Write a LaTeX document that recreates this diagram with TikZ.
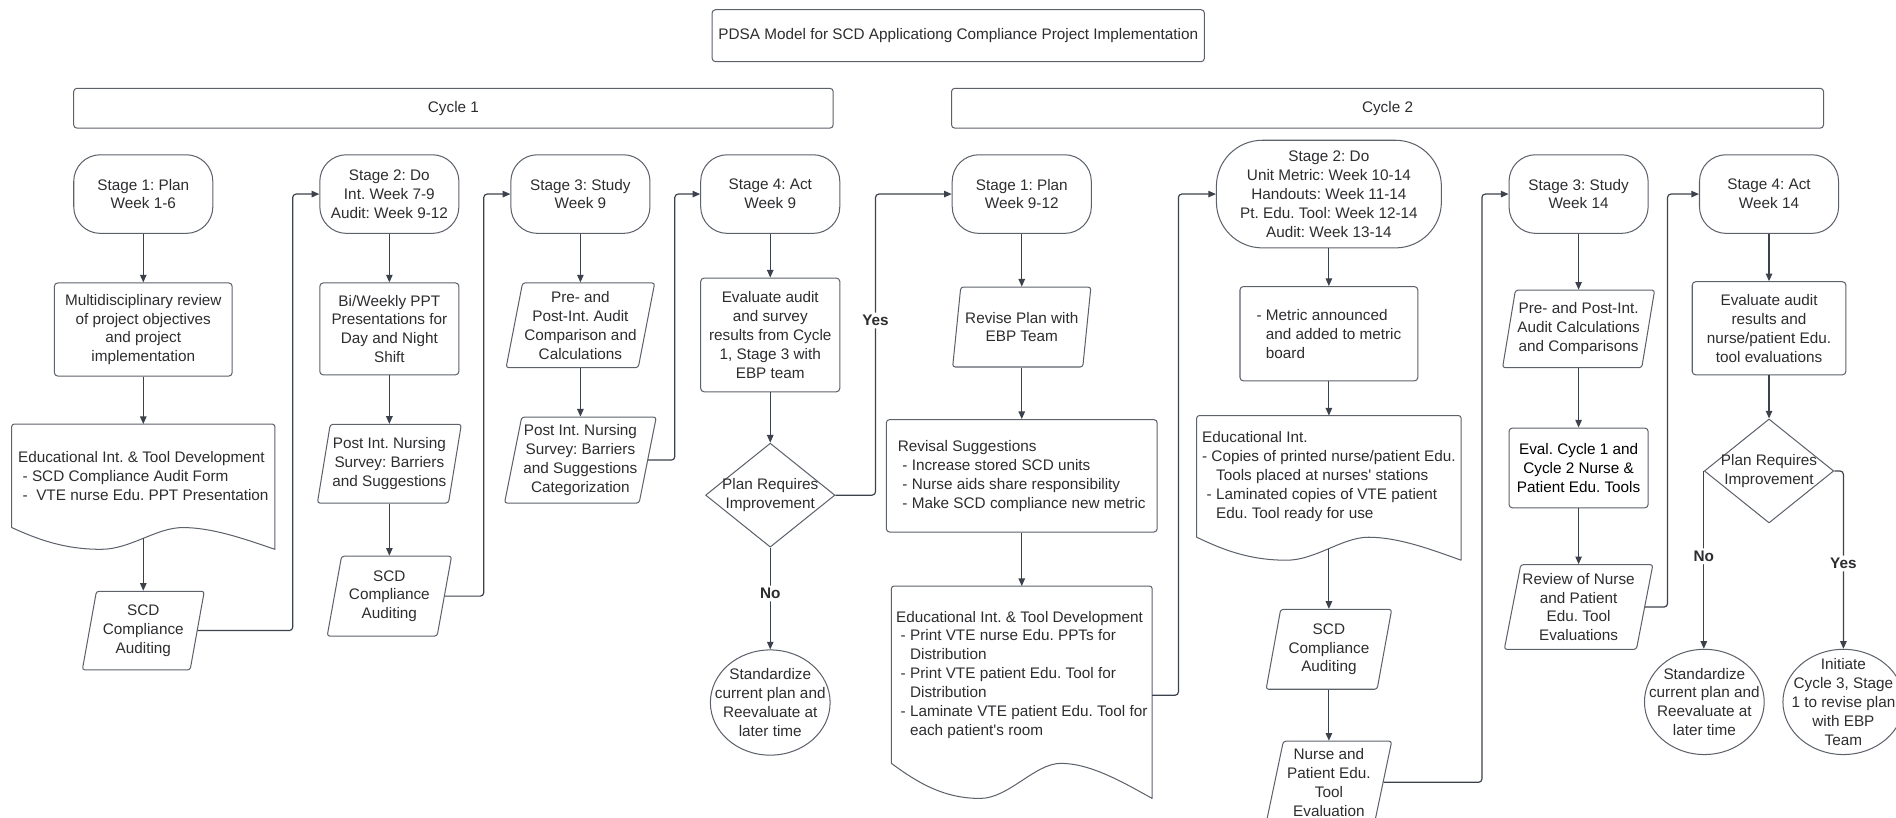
\documentclass[tikz,border=0pt]{standalone}
\usepackage{fontspec}
\setmainfont{Liberation Sans}
\usepackage{tikz}
\usetikzlibrary{shapes.geometric, arrows.meta, calc}
\definecolor{linegray}{RGB}{92, 97, 106}
\definecolor{arrowgray}{RGB}{60, 66, 76}
\definecolor{txtgray}{RGB}{45, 45, 48}
\newcommand{\listdash}{\hspace*{0.3em}-\ }
\newcommand{\listcont}{\hspace*{0.3em}\phantom{-\ }}
\frenchspacing

\begin{document}
\begin{tikzpicture}[x=0.025cm, y=-0.025cm,
  every node/.style={font=\fontsize{9pt}{11.1pt}\selectfont, text=txtgray},
  outline/.style={draw=linegray, line width=0.6pt, line join=round},
  procbox/.style={rectangle, rounded corners=2pt, outline,
    align=center, inner sep=2pt},
  stagebox/.style={procbox, rounded corners=0.55cm,
    minimum width=2.875cm, minimum height=1.625cm},
  iobox/.style={trapezium, trapezium left angle=77, trapezium right angle=103,
    trapezium stretches=true, rounded corners=1.5pt, outline,
    align=center, inner sep=1pt},
  docbox/.style={rectangle, align=left, inner sep=2pt,
    append after command={\pgfextra{
      \draw[outline]
        (\tikzlastnode.south west) [rounded corners=1.5pt] -- (\tikzlastnode.north west)
        -- (\tikzlastnode.north east) [sharp corners]
        -- ($(\tikzlastnode.south east)+(0pt,-#1)$)
        .. controls ($(\tikzlastnode.south west)!0.88!(\tikzlastnode.south east)+(0pt,-0.5*#1)$)
          and ($(\tikzlastnode.south west)!0.76!(\tikzlastnode.south east)$)
        .. ($(\tikzlastnode.south west)!0.65!(\tikzlastnode.south east)$)
        .. controls ($(\tikzlastnode.south west)!0.55!(\tikzlastnode.south east)$)
          and ($(\tikzlastnode.south west)!0.45!(\tikzlastnode.south east)+(0pt,-#1)$)
        .. ($(\tikzlastnode.south west)!0.34!(\tikzlastnode.south east)+(0pt,-#1)$)
        .. controls ($(\tikzlastnode.south west)!0.2!(\tikzlastnode.south east)+(0pt,-#1)$)
          and ($(\tikzlastnode.south west)!0.1!(\tikzlastnode.south east)+(0pt,-0.55*#1)$)
        .. (\tikzlastnode.south west) -- cycle;}}},
  decbox/.style={diamond, outline, inner sep=0pt,
    minimum width=2.675cm, minimum height=2.15cm},
  endbox/.style={ellipse, outline, inner sep=0pt, minimum height=2.175cm},
  inlabel/.style={align=center, inner sep=0pt},
  yesno/.style={fill=white, inner sep=1.5pt,
    font=\fontsize{9pt}{11pt}\selectfont\bfseries},
  arr/.style={-{Triangle[length=4.5pt, width=3.8pt]}, line width=0.7pt,
    draw=arrowgray, rounded corners=2pt}
]
\useasboundingbox (0,0) rectangle (1568,676);

% Title and cycle headers
\node[procbox, minimum width=10.175cm, minimum height=1.075cm] (title) at (792.5,29.5)
  {PDSA Model for SCD Applicationg Compliance Project Implementation};
\node[procbox, minimum width=15.7cm, minimum height=0.825cm] (cyc1) at (375,89.5) {Cycle 1};
\node[procbox, minimum width=18.025cm, minimum height=0.825cm] (cyc2) at (1147.5,89.5) {Cycle 2};

% Cycle 1 -- Stage 1: Plan
\node[stagebox] (p1) at (118.5,160.5) {Stage 1: Plan\\Week 1-6};
\node[procbox, minimum width=3.675cm, minimum height=1.925cm] (p1rev) at (118.5,272.5)
  {Multidisciplinary review\\of project objectives\\and project\\implementation};
\node[docbox=0.45cm, minimum width=5.425cm, minimum height=2.125cm] (p1doc) at (118.5,393.5)
  {Educational Int. \& Tool Development\\\listdash SCD Compliance Audit Form\\\hspace*{0.3em}-\ \ VTE nurse Edu. PPT Presentation};
\node[iobox, minimum width=2.525cm, minimum height=1.625cm] (p1aud) at (118.5,521.5)
  {SCD\\Compliance\\Auditing};

% Cycle 1 -- Stage 2: Do
\node[stagebox] (d1) at (322,160.5) {Stage 2: Do\\Int. Week 7-9\\Audit: Week 9-12};
\node[procbox, minimum width=2.875cm, minimum height=1.9cm] (d1ppt) at (322,272)
  {Bi/Weekly PPT\\Presentations for\\Day and Night\\Shift};
\node[iobox, minimum width=3cm, minimum height=1.625cm] (d1srv) at (322,383.5)
  {Post Int. Nursing\\Survey: Barriers\\and Suggestions};
\node[iobox, minimum width=2.575cm, minimum height=1.65cm] (d1aud) at (322,493)
  {SCD\\Compliance\\Auditing};

% Cycle 1 -- Stage 3: Study
\node[stagebox] (s1) at (480,160.5) {Stage 3: Study\\Week 9};
\node[iobox, minimum width=2.9cm, minimum height=1.75cm] (s1cmp) at (480,269)
  {Pre- and\\Post-Int. Audit\\Comparison and\\Calculations};
\node[iobox, minimum width=2.875cm, minimum height=1.775cm] (s1srv) at (480,380.5)
  {Post Int. Nursing\\Survey: Barriers\\and Suggestions\\Categorization};

% Cycle 1 -- Stage 4: Act
\node[stagebox] (a1) at (637,160.5) {Stage 4: Act\\Week 9};
\node[procbox, minimum width=2.875cm, minimum height=2.35cm] (a1eval) at (637,277)
  {Evaluate audit\\and survey\\results from Cycle\\1, Stage 3 with\\EBP team};
\node[decbox, label={[inlabel]center:{Plan Requires\\Improvement}}] (a1dec) at (637,409.5) {};
\node[endbox, minimum width=2.475cm,
  label={[inlabel]center:{Standardize\\current plan and\\Reevaluate at\\later time}}] (a1std) at (637,581) {};

% Cycle 2 -- Stage 1: Plan
\node[stagebox] (p2) at (845,160.5) {Stage 1: Plan\\Week 9-12};
\node[iobox, minimum width=2.875cm, minimum height=1.65cm] (p2rev) at (845,270.5)
  {Revise Plan with\\EBP Team};
\node[procbox, align=left, minimum width=5.6cm, minimum height=2.325cm] (p2sug) at (845,393.5)
  {Revisal Suggestions\\\listdash Increase stored SCD units\\\listdash Nurse aids share responsibility\\\listdash Make SCD compliance new metric};
\node[docbox=0.725cm, minimum width=5.375cm, minimum height=3.65cm] (p2doc) at (845,558)
  {Educational Int. \& Tool Development\\\listdash Print VTE nurse Edu. PPTs for\\\listcont Distribution\\\listdash Print VTE patient Edu. Tool for\\\listcont Distribution\\\listdash Laminate VTE patient Edu. Tool for\\\listcont each patient\textquotesingle s room};

% Cycle 2 -- Stage 2: Do
\node[stagebox, rounded corners=0.95cm, minimum width=4.65cm, minimum height=2.225cm] (d2) at (1099,160.5)
  {Stage 2: Do\\Unit Metric: Week 10-14\\Handouts: Week 11-14\\Pt. Edu. Tool: Week 12-14\\Audit: Week 13-14};
\node[procbox, align=left, minimum width=3.675cm, minimum height=1.95cm] (d2met) at (1099,276)
  {- Metric announced\\\phantom{-\ }and added to metric\\\phantom{-\ }board};
\node[docbox=0.475cm, minimum width=5.45cm, minimum height=2.5cm] (d2doc) at (1099,394)
  {Educational Int.\\-\ Copies of printed nurse/patient Edu.\\\listcont Tools placed at nurses\textquotesingle{} stations\\\listdash Laminated copies of VTE patient\\\listcont Edu. Tool ready for use};
\node[iobox, minimum width=2.6cm, minimum height=1.65cm] (d2aud) at (1099,537)
  {SCD\\Compliance\\Auditing};
\node[iobox, minimum width=2.6cm, minimum height=1.7cm] (d2evl) at (1099,647)
  {Nurse and\\Patient Edu.\\Tool\\Evaluation};

% Cycle 2 -- Stage 3: Study
\node[stagebox] (s2) at (1305.5,160.5) {Stage 3: Study\\Week 14};
\node[iobox, minimum width=3.15cm, minimum height=1.6cm] (s2cmp) at (1305.5,272)
  {Pre- and Post-Int.\\Audit Calculations\\and Comparisons};
\node[procbox, text=black, minimum width=2.875cm, minimum height=1.65cm] (s2tool) at (1305.5,387)
  {Eval. Cycle 1 and\\Cycle 2 Nurse \&\\Patient Edu. Tools};
\node[iobox, minimum width=2.85cm, minimum height=1.75cm] (s2rev) at (1305.5,502)
  {Review of Nurse\\and Patient\\Edu. Tool\\Evaluations};

% Cycle 2 -- Stage 4: Act
\node[stagebox] (a2) at (1463,160.5) {Stage 4: Act\\Week 14};
\node[procbox, minimum width=3.175cm, minimum height=1.925cm] (a2eval) at (1463,271.5)
  {Evaluate audit\\results and\\nurse/patient Edu.\\tool evaluations};
\node[decbox, label={[inlabel]center:{Plan Requires\\Improvement}}] (a2dec) at (1463,389.5) {};
\node[endbox, minimum width=2.475cm,
  label={[inlabel]center:{Standardize\\current plan and\\Reevaluate at\\later time}}] (a2std) at (1409.5,580.5) {};
\node[endbox, minimum width=2.5cm,
  label={[inlabel]center:{Initiate\\Cycle 3, Stage\\1 to revise plan\\with EBP\\Team}}] (a2new) at (1524.5,580.5) {};

% Cycle 1 connectors
\draw[arr] (p1.south) -- (p1rev.north);
\draw[arr] (p1rev.south) -- (p1doc.north);
\draw[arr, shorten <=0.225cm] (p1doc.south) -- (p1doc.south |- p1aud.north);
\draw[arr] (p1aud.right side) -| ([xshift=-0.55cm]d1.west) -- (d1.west);
\draw[arr] (d1.south) -- (d1ppt.north);
\draw[arr] (d1ppt.south) -- (d1ppt.south |- d1srv.north);
\draw[arr] (d1srv |- d1srv.south) -- (d1srv |- d1aud.north);
\draw[arr] (d1aud.right side) -| ([xshift=-0.55cm]s1.west) -- (s1.west);
\draw[arr] (s1.south) -- (s1.south |- s1cmp.north);
\draw[arr] (s1cmp |- s1cmp.south) -- (s1cmp |- s1srv.north);
\draw[arr] (s1srv.right side) -| ([xshift=-0.525cm]a1.west) -- (a1.west);
\draw[arr] (a1.south) -- (a1eval.north);
\draw[arr] (a1eval.south) -- (a1dec.north);
\draw[arr] (a1dec.south) -- node[yesno, pos=0.45] {No} (a1std.north);
\draw[arr] (a1dec.east) -| node[yesno, pos=0.79] {Yes} ([xshift=-1.575cm]p2.west) -- (p2.west);

% Cycle 2 connectors
\draw[arr] (p2.south) -- (p2.south |- p2rev.north);
\draw[arr] (p2rev |- p2rev.south) -- (p2rev |- p2sug.north);
\draw[arr] (p2sug.south) -- (p2doc.north);
\draw[arr] ([yshift=-0.425cm]p2doc.east) -| ([xshift=-0.775cm]d2.west) -- (d2.west);
\draw[arr] (d2.south) -- (d2met.north);
\draw[arr] (d2met.south) -- (d2doc.north);
\draw[arr, shorten <=0.2375cm] (d2doc.south) -- (d2doc.south |- d2aud.north);
\draw[arr] (d2aud |- d2aud.south) -- (d2aud |- d2evl.north);
\draw[arr] (d2evl.right side) -| ([xshift=-0.55cm]s2.west) -- (s2.west);
\draw[arr] (s2.south) -- (s2.south |- s2cmp.north);
\draw[arr] (s2cmp |- s2cmp.south) -- (s2tool.north);
\draw[arr] (s2tool.south) -- (s2tool.south |- s2rev.north);
\draw[arr] (s2rev.right side) -| ([xshift=-0.65cm]a2.west) -- (a2.west);
\draw[arr] (a2.south) -- (a2eval.north);
\draw[arr] (a2eval.south) -- (a2dec.north);
\draw[arr] (a2dec.west) -- node[yesno, pos=0.48] {No} (a2dec.west |- a2std.north);
\draw[arr] (a2dec.east) -| node[yesno, pos=0.76] {Yes} (a2new.north);
\end{tikzpicture}
\end{document}
